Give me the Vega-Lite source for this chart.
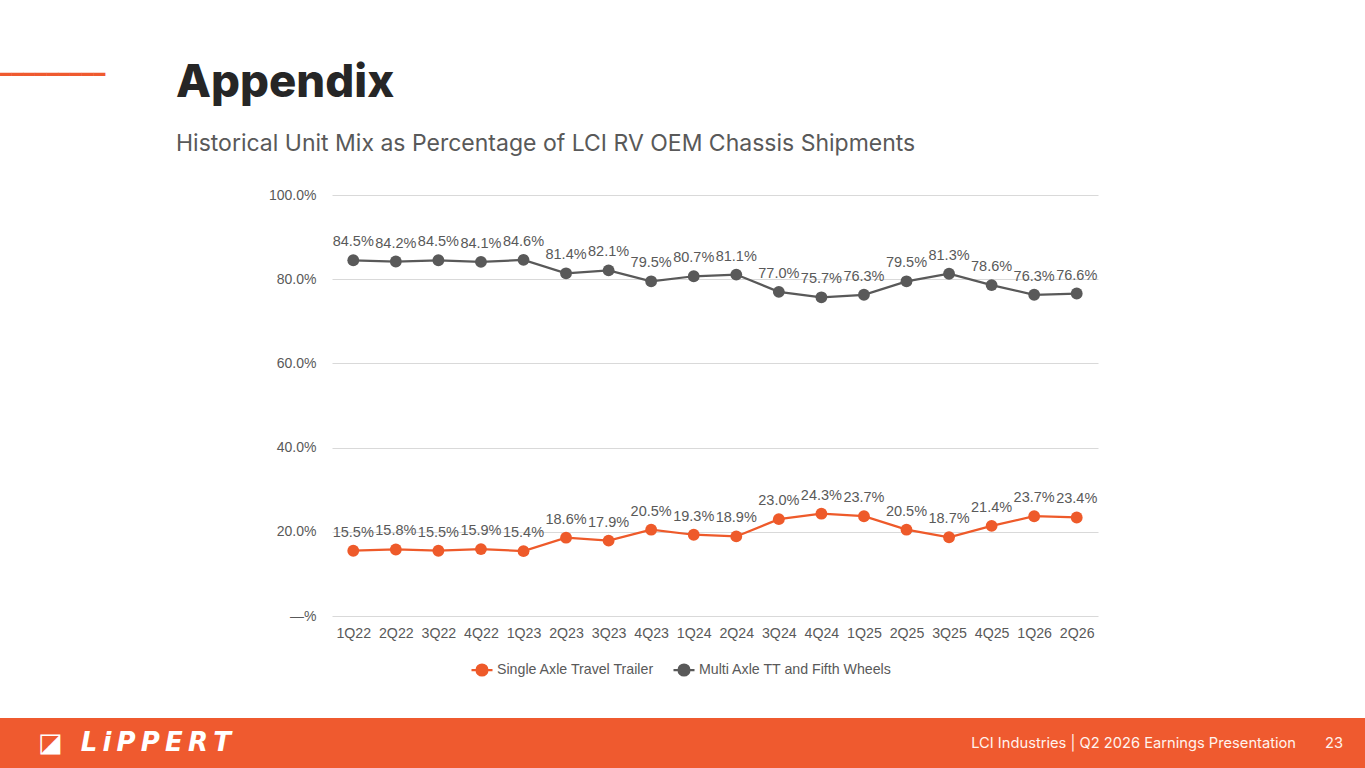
{
  "$schema": "https://vega.github.io/schema/vega-lite/v6.json",
  "background": "white",
  "padding": {"left": 0, "top": 60, "right": 0, "bottom": 0},
  "spacing": 77,
  "config": {"view": {"stroke": null}},
  "vconcat": [
    {
      "spacing": 70,
      "hconcat": [
        {
          "width": 105,
          "height": 421,
          "data": {"values": [{}]},
          "mark": {"type": "rect", "opacity": 0},
          "title": {
            "text": "━━━━━━━━━",
            "anchor": "start",
            "frame": "group",
            "offset": 110,
            "baseline": "top",
            "font": "DejaVu Sans Mono",
            "fontSize": 19.4,
            "fontWeight": "normal",
            "color": "#EF5A2F"
          }
        },
        {
          "width": 766,
          "height": 421,
          "title": {
            "text": "Appendix",
            "subtitle": "Historical Unit Mix as Percentage of LCI RV OEM Chassis Shipments",
            "anchor": "start",
            "frame": "group",
            "dx": -156,
            "offset": 32,
            "font": "Inter",
            "fontSize": 45.5,
            "fontWeight": 800,
            "color": "#262626",
            "subtitleFont": "Inter",
            "subtitleFontSize": 23,
            "subtitleColor": "#595959",
            "subtitlePadding": 27
          },
          "data": {
            "values": [
              {"q": "1Q22", "s": "Single Axle Travel Trailer", "v": 0.155},
              {"q": "2Q22", "s": "Single Axle Travel Trailer", "v": 0.158},
              {"q": "3Q22", "s": "Single Axle Travel Trailer", "v": 0.155},
              {"q": "4Q22", "s": "Single Axle Travel Trailer", "v": 0.159},
              {"q": "1Q23", "s": "Single Axle Travel Trailer", "v": 0.154},
              {"q": "2Q23", "s": "Single Axle Travel Trailer", "v": 0.186},
              {"q": "3Q23", "s": "Single Axle Travel Trailer", "v": 0.179},
              {"q": "4Q23", "s": "Single Axle Travel Trailer", "v": 0.205},
              {"q": "1Q24", "s": "Single Axle Travel Trailer", "v": 0.193},
              {"q": "2Q24", "s": "Single Axle Travel Trailer", "v": 0.189},
              {"q": "3Q24", "s": "Single Axle Travel Trailer", "v": 0.230},
              {"q": "4Q24", "s": "Single Axle Travel Trailer", "v": 0.243},
              {"q": "1Q25", "s": "Single Axle Travel Trailer", "v": 0.237},
              {"q": "2Q25", "s": "Single Axle Travel Trailer", "v": 0.205},
              {"q": "3Q25", "s": "Single Axle Travel Trailer", "v": 0.187},
              {"q": "4Q25", "s": "Single Axle Travel Trailer", "v": 0.214},
              {"q": "1Q26", "s": "Single Axle Travel Trailer", "v": 0.237},
              {"q": "2Q26", "s": "Single Axle Travel Trailer", "v": 0.234},
              {"q": "1Q22", "s": "Multi Axle TT and Fifth Wheels", "v": 0.845},
              {"q": "2Q22", "s": "Multi Axle TT and Fifth Wheels", "v": 0.842},
              {"q": "3Q22", "s": "Multi Axle TT and Fifth Wheels", "v": 0.845},
              {"q": "4Q22", "s": "Multi Axle TT and Fifth Wheels", "v": 0.841},
              {"q": "1Q23", "s": "Multi Axle TT and Fifth Wheels", "v": 0.846},
              {"q": "2Q23", "s": "Multi Axle TT and Fifth Wheels", "v": 0.814},
              {"q": "3Q23", "s": "Multi Axle TT and Fifth Wheels", "v": 0.821},
              {"q": "4Q23", "s": "Multi Axle TT and Fifth Wheels", "v": 0.795},
              {"q": "1Q24", "s": "Multi Axle TT and Fifth Wheels", "v": 0.807},
              {"q": "2Q24", "s": "Multi Axle TT and Fifth Wheels", "v": 0.811},
              {"q": "3Q24", "s": "Multi Axle TT and Fifth Wheels", "v": 0.770},
              {"q": "4Q24", "s": "Multi Axle TT and Fifth Wheels", "v": 0.757},
              {"q": "1Q25", "s": "Multi Axle TT and Fifth Wheels", "v": 0.763},
              {"q": "2Q25", "s": "Multi Axle TT and Fifth Wheels", "v": 0.795},
              {"q": "3Q25", "s": "Multi Axle TT and Fifth Wheels", "v": 0.813},
              {"q": "4Q25", "s": "Multi Axle TT and Fifth Wheels", "v": 0.786},
              {"q": "1Q26", "s": "Multi Axle TT and Fifth Wheels", "v": 0.763},
              {"q": "2Q26", "s": "Multi Axle TT and Fifth Wheels", "v": 0.766}
            ]
          },
          "encoding": {
            "x": {
              "field": "q",
              "type": "ordinal",
              "sort": null,
              "scale": {"type": "point", "padding": 0.5},
              "axis": {
                "title": null,
                "domain": false,
                "ticks": false,
                "grid": false,
                "labelAngle": 0,
                "labelFont": "Liberation Sans",
                "labelFontSize": 14.2,
                "labelColor": "#595959",
                "labelPadding": 10
              }
            },
            "y": {
              "field": "v",
              "type": "quantitative",
              "scale": {"domain": [0, 1]},
              "axis": {
                "title": null,
                "values": [0, 0.2, 0.4, 0.6, 0.8, 1],
                "labelExpr": "datum.value == 0 ? '—%' : format(datum.value, '.1%')",
                "domain": false,
                "ticks": false,
                "gridColor": "#D9D9D9",
                "labelFont": "Liberation Sans",
                "labelFontSize": 14,
                "labelColor": "#595959",
                "labelPadding": 16
              }
            },
            "color": {
              "field": "s",
              "type": "nominal",
              "scale": {
                "domain": ["Single Axle Travel Trailer", "Multi Axle TT and Fifth Wheels"],
                "range": ["#EE5A2A", "#595959"]
              },
              "legend": {
                "title": null,
                "orient": "none",
                "direction": "horizontal",
                "legendX": 470,
                "legendY": 463,
                "labelFont": "Liberation Sans",
                "labelFontSize": 14.2,
                "labelColor": "#595959",
                "labelLimit": 400,
                "symbolType": "M-1,0L1,0M-0.52,0A0.52,0.52,0,1,0,0.52,0A0.52,0.52,0,1,0,-0.52,0Z",
                "symbolSize": 441,
                "symbolStrokeWidth": 2.25,
                "columnPadding": 14,
                "labelOffset": 3,
                "encode": {
                  "symbols": {
                    "update": {
                      "fill": {"scale": "color", "field": "value"},
                      "stroke": {"scale": "color", "field": "value"},
                      "opacity": {"value": 1}
                    }
                  }
                }
              }
            }
          },
          "layer": [
            {"mark": {"type": "line", "strokeWidth": 2.25}},
            {"mark": {"type": "point", "filled": true, "size": 140, "opacity": 1}},
            {
              "mark": {"type": "text", "dy": -18, "font": "Liberation Sans", "fontSize": 14.5},
              "encoding": {
                "text": {"field": "v", "type": "quantitative", "format": ".1%"},
                "color": {"value": "#595959"}
              }
            }
          ]
        }
      ]
    },
    {
      "spacing": 0,
      "hconcat": [
        {
          "width": 683,
          "height": 51,
          "view": {"fill": "#EF5A2F", "stroke": null},
          "data": {"values": [{}]},
          "mark": {"type": "rect", "opacity": 0},
          "title": {
            "text": "◪\u00a0\u00a0L\u2009i\u2009P\u2009P\u2009E\u2009R\u2009T",
            "anchor": "start",
            "frame": "group",
            "orient": "top",
            "offset": 0,
            "dx": 38,
            "dy": 59,
            "baseline": "alphabetic",
            "font": "DejaVu Sans",
            "fontStyle": "italic",
            "fontWeight": "bold",
            "fontSize": 26,
            "color": "white"
          }
        },
        {
          "width": 682,
          "height": 51,
          "view": {"fill": "#EF5A2F", "stroke": null},
          "data": {"values": [{}]},
          "mark": {"type": "rect", "opacity": 0},
          "title": {
            "text": "LCI Industries | Q2 2026 Earnings Presentation\u00a0\u00a0\u00a0\u00a0\u00a0\u00a0\u00a023",
            "anchor": "end",
            "frame": "group",
            "orient": "top",
            "offset": 0,
            "dx": -22,
            "dy": 44.5,
            "baseline": "alphabetic",
            "font": "Inter",
            "fontSize": 14.7,
            "fontWeight": "normal",
            "color": "#FFF3EE"
          }
        }
      ]
    }
  ]
}
